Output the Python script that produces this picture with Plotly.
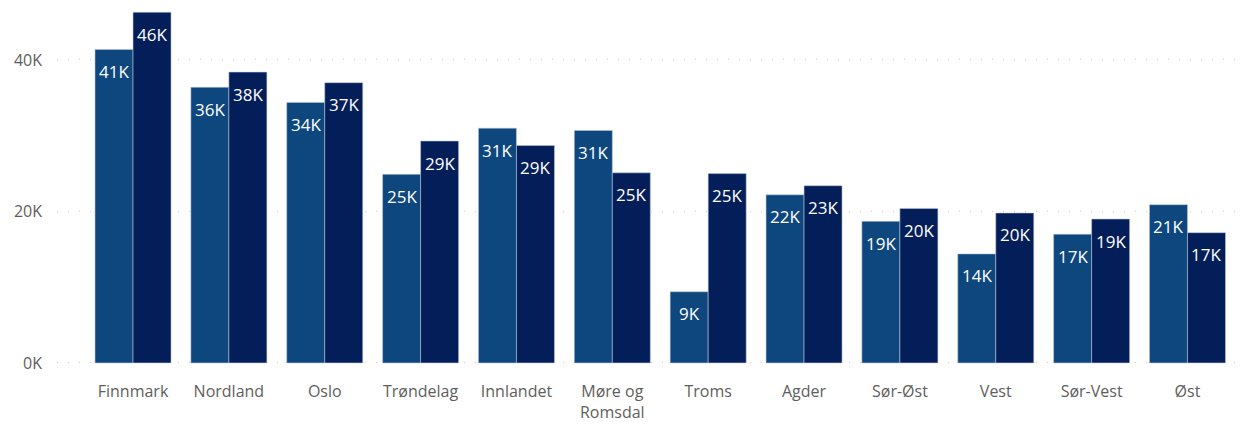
import plotly.graph_objects as go

regions = ["Finnmark", "Nordland", "Oslo", "Trøndelag", "Innlandet", "Møre og<br>Romsdal",
           "Troms", "Agder", "Sør-Øst", "Vest", "Sør-Vest", "Øst"]
series_a = [41400, 36400, 34400, 24900, 31000, 30700, 9400, 22200, 18700, 14400, 17000, 20900]
series_b = [46300, 38400, 37000, 29300, 28700, 25100, 25000, 23400, 20400, 19800, 19000, 17200]
y_ticks = [0, 20000, 40000]
y_tick_text = ["0K", "20K", "40K"]

color_a = "#0E477E"
color_b = "#041E59"
font = "Open Sans, Segoe UI, sans-serif"

fig = go.Figure()
for vals, col in [(series_a, color_a), (series_b, color_b)]:
    fig.add_trace(go.Bar(
        x=regions, y=vals,
        marker=dict(color=col, line=dict(color="rgba(190,200,220,0.7)", width=0.8)),
        hoverinfo="x+y",
    ))

# data labels inside the top of each bar
for vals, shift in [(series_a, -19), (series_b, 19)]:
    for cat, v in zip(regions, vals):
        fig.add_annotation(
            x=cat, y=v, xshift=shift, yshift=-22,
            text=f"{round(v / 1000)}K", showarrow=False,
            yanchor="middle", xanchor="center",
            font=dict(family=font, size=17, color="white"),
        )

fig.update_layout(
    width=1249, height=429,
    margin=dict(l=57, r=4, t=0, b=65),
    barmode="group", bargap=0.207, bargroupgap=0,
    showlegend=False,
    plot_bgcolor="white", paper_bgcolor="white",
    font=dict(family=font, size=16, color="#605E5C"),
)
fig.update_xaxes(
    range=[-0.793, 11.6], showgrid=False, zeroline=False, showline=False,
    ticks="", ticklabelstandoff=16, tickfont=dict(size=16, color="#605E5C"),
)
fig.update_yaxes(
    range=[-140, 47921], tickvals=y_ticks, ticktext=y_tick_text,
    showgrid=True, gridcolor="#C8C8C8", gridwidth=1, griddash="1px,10px",
    zeroline=False, showline=False, ticks="", ticklabelstandoff=14,
    tickfont=dict(size=16, color="#605E5C"),
)

fig.write_html("out.html", config={"displayModeBar": False},
               post_script="document.body.style.margin='0';")
